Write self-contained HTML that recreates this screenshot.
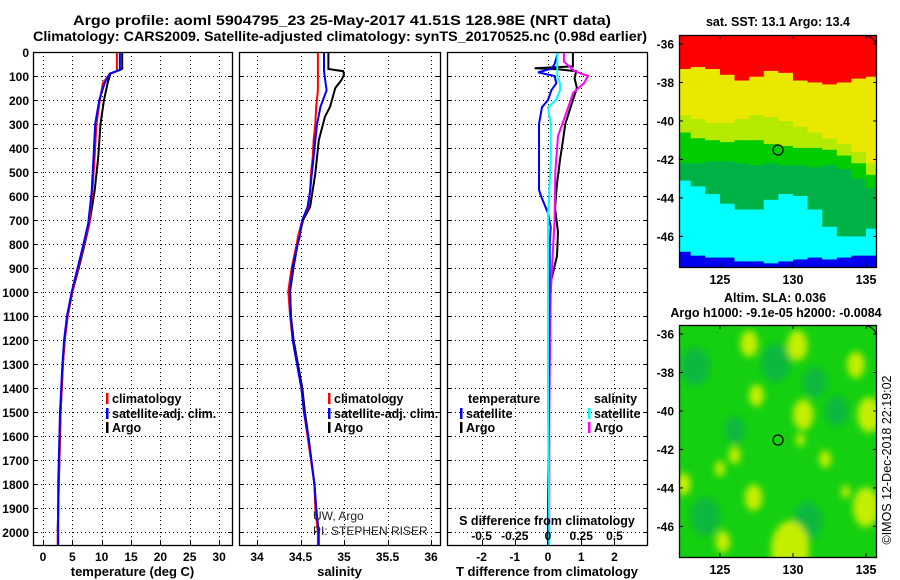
<!DOCTYPE html>
<html><head><meta charset="utf-8"><style>
html,body{margin:0;padding:0;background:#fff;}
svg{display:block;font-family:"Liberation Sans",sans-serif;font-weight:bold;}
</style></head><body>
<svg id="fig" width="900" height="580" viewBox="0 0 900 580" xmlns="http://www.w3.org/2000/svg">
<text x="342" y="25" text-anchor="middle" font-size="13.5" textLength="538" lengthAdjust="spacingAndGlyphs">Argo profile: aoml 5904795_23 25-May-2017 41.51S 128.98E (NRT data)</text>
<text x="340" y="41" text-anchor="middle" font-size="13.5" textLength="614" lengthAdjust="spacingAndGlyphs">Climatology: CARS2009. Satellite-adjusted climatology: synTS_20170525.nc (0.98d earlier)</text>
<g id="layer"></g>
</svg>
<script>
// ---------- data ----------
var depthTicks = [0,100,200,300,400,500,600,700,800,900,1000,1100,1200,1300,1400,1500,1600,1700,1800,1900,2000];
var tempTicks = [0,5,10,15,20,25,30];
var salTicks = [34,34.5,35,35.5,36];
var salTickLabels = ["34","34.5","35","35.5","36"];
var tdiffTicks = [-2,-1,0,1,2];
var sdiffTicks = [-0.5,-0.25,0,0.25,0.5];
var sdiffTickLabels = ["-0.5","-0.25","0","0.25","0.5"];

var tClimDepth = [0,80,90,130,200,300,440,580,715,800,900,1000,1100,1200,1300,1400,1500,1600,1800,2000,2054];
var tClimVal   = [12.6,12.6,11.4,10.2,9.7,9.1,8.8,8.4,7.9,7.0,6.0,5.0,4.2,3.7,3.4,3.2,3.0,2.9,2.7,2.5,2.5];
var tSatDepth  = [0,75,90,130,200,300,440,580,715,800,900,1000,1100,1200,1300,1400,1500,1600,1800,2000,2054];
var tSatVal    = [13.1,13.1,11.4,10.5,9.6,8.9,8.6,8.3,7.7,6.9,5.9,4.9,4.1,3.6,3.3,3.1,2.9,2.8,2.6,2.6,2.6];
var tArgoDepth = [0,70,90,130,200,300,440,580,715,800,900,1000,1100,1200,1300,1400,1500,1600,1800,2000];
var tArgoVal   = [13.5,13.5,11.5,11.0,10.4,9.8,9.4,8.8,7.9,7.1,6.1,5.0,4.2,3.7,3.4,3.2,3.0,2.9,2.7,2.5];

var sDepth     = [0,80,160,228,300,368,440,507,580,646,700,771,796,896,996,1100,1200,1300,1400,1500,1600,1800,1900,2000,2054];
var sClimVal   = [34.70,34.70,34.70,34.68,34.67,34.65,34.64,34.62,34.61,34.59,34.52,34.47,34.46,34.40,34.36,34.38,34.41,34.46,34.51,34.54,34.58,34.66,34.67,34.70,34.70];
var sSatVal    = [34.77,34.77,34.80,34.73,34.69,34.67,34.65,34.63,34.61,34.58,34.52,34.49,34.47,34.41,34.38,34.39,34.41,34.46,34.51,34.54,34.59,34.66,34.68,34.71,34.71];
var sArgoDepth = [0,71,80,95,117,150,228,270,368,507,646,700,771,896,996,1100,1200,1300,1400,1500,1600,1800,2000];
var sArgoVal   = [34.82,34.82,34.99,35.00,34.97,34.90,34.84,34.78,34.71,34.67,34.61,34.53,34.48,34.42,34.38,34.39,34.42,34.47,34.52,34.55,34.59,34.66,34.70];

var dDepth     = [0,50,70,85,100,130,160,200,230,300,370,450,575,604,671,729,800,900,1000,1200,1500,2000,2054];
var tdSatVal   = [0.3,0.2,0.1,-0.3,0.2,0.25,0.1,0.0,-0.18,-0.27,-0.27,-0.27,-0.27,-0.2,0.0,0.08,0.05,0.05,0.04,0.03,0.02,0.0,0.0];
var tdArgoDepth= [0,60,68,72,80,110,150,200,300,370,450,550,650,750,850,950,1050,1500,2000];
var tdArgoVal  = [0.75,0.75,-0.4,0.3,0.85,0.8,0.87,0.75,0.52,0.45,0.36,0.27,0.21,0.3,0.27,0.1,0.06,0.03,0.0];
var sdSatVal   = [0.07,0.07,0.07,0.07,0.07,0.09,0.09,0.06,0.0,0.02,0.02,0.02,0.01,0.01,0.0,0.0,0.0,0.0,0.0,0.0,0.0,0.01,0.01];
var sdArgoDepth= [0,40,80,100,130,170,250,350,500,700,900,1000,1500,2000];
var sdArgoVal  = [0.12,0.12,0.2,0.3,0.27,0.19,0.14,0.075,0.055,0.05,0.03,0.02,0.01,0.01];

// SST map: per-longitude-column colour band edges (latitude)
var sstLon     = [122.5,123.5,124.5,125.5,126.5,127.5,128.5,129.5,130.5,131.5,132.5,133.5,134.5,135.5];
var redEdge    = [-37.3,-37.2,-37.3,-37.6,-37.9,-37.7,-37.4,-37.5,-37.9,-38.0,-38.1,-38.0,-37.8,-37.7];
var yellowEdge = [-39.7,-39.9,-40.1,-40.1,-39.9,-39.7,-39.8,-40.0,-40.3,-40.6,-40.9,-41.2,-41.6,-42.2];
var lightEdge  = [-40.6,-40.9,-41.0,-41.1,-41.0,-41.0,-41.2,-41.3,-41.4,-41.4,-41.5,-41.8,-42.2,-42.8];
var greenEdge  = [-42.2,-42.2,-42.1,-42.1,-42.2,-42.3,-42.2,-42.3,-42.3,-42.4,-42.3,-42.5,-43.0,-43.5];
var darkEdge   = [-43.1,-43.4,-43.8,-44.3,-44.6,-44.6,-44.1,-43.8,-43.9,-44.6,-45.5,-46.0,-46.0,-45.6];
var cyanEdge   = [-46.8,-47.0,-47.1,-47.1,-47.3,-47.3,-47.4,-47.3,-47.2,-47.1,-47.2,-47.1,-47.0,-47.0];

// SLA map blobs
var lightLon = [127.0,130.3,134.3,130.7,135.2,127.5,127.3,125.2,129.8,135.0,122.5,126.0,132.2,125.0,133.6,130.5];
var lightLat = [-36.5,-36.6,-37.6,-40.2,-40.2,-39.2,-44.5,-46.8,-47.2,-45.0,-43.8,-42.3,-42.5,-43.0,-44.2,-41.5];
var lightRad = [0.6,0.7,0.6,0.7,0.8,0.5,0.6,0.5,1.3,0.9,0.5,0.4,0.4,0.35,0.3,0.3];
var darkLon = [123.3,128.8,131.5,124.0,131.0,133.0,126.0];
var darkLat = [-37.7,-37.5,-38.5,-45.5,-45.7,-40.0,-41.0];
var darkRad = [1.0,1.0,0.8,1.0,1.0,0.8,0.7];

var argoLon = 128.98, argoLat = -41.51;

// ---------- helpers ----------
var NS = "http://www.w3.org/2000/svg";
var layer = document.getElementById('layer');
function mk(tag, attrs, parent){ var e=document.createElementNS(NS,tag); for(var k in attrs) e.setAttribute(k,attrs[k]); (parent||layer).appendChild(e); return e; }

var Y0=52, Y1=545, D1=2054;
function yDepth(d){ return Y0 + (d/D1)*(Y1-Y0); }
function makeX(px0, px1, v0, v1){ return function(v){ return px0 + (v-v0)/(v1-v0)*(px1-px0); }; }

var panels = [
 {x0:33,x1:232, name:'temperature-panel', x:makeX(33,232,-1.70,32.2), ticks:tempTicks, labels:tempTicks.map(String), title:'temperature (deg C)'},
 {x0:239,x1:440, name:'salinity-panel', x:makeX(239,440,33.793,36.103), ticks:salTicks, labels:salTickLabels, title:'salinity'},
 {x0:447,x1:647, name:'difference-panel', x:makeX(447,647,-3.04,2.98), ticks:tdiffTicks, labels:tdiffTicks.map(String), title:'T difference from climatology'}
];

panels.forEach(function(p,i){
  var g = mk('g',{});
  
  
  p.ticks.forEach(function(t){
    var xx=Math.round(p.x(t))+0.5;
    var l=mk('line',{x1:xx,x2:xx,y1:Y0,y2:Y1,stroke:'#000','stroke-width':1,'stroke-dasharray':'1,3'},g);
    
    
    mk('line',{x1:xx,x2:xx,y1:Y1-4,y2:Y1,stroke:'#000'},g);
    var tl=mk('text',{x:p.x(t),y:561,'text-anchor':'middle','font-size':12},g);
    tl.textContent=p.labels[p.ticks.indexOf(t)];
    
    
  });
  depthTicks.forEach(function(d){
    var yy=Math.round(yDepth(d))+0.5;
    if(d>0){
      var l=mk('line',{x1:p.x0,x2:p.x1,y1:yy,y2:yy,stroke:'#000','stroke-width':1,'stroke-dasharray':'1,3'},g);
      
      
    }
    mk('line',{x1:p.x0,x2:p.x0+4,y1:yy,y2:yy,stroke:'#000'},g);
    mk('line',{x1:p.x1-4,x2:p.x1,y1:yy,y2:yy,stroke:'#000'},g);
    if(i===0){
      var tl=mk('text',{x:29,y:yy+4.5,'text-anchor':'end','font-size':12},g);
      tl.textContent=String(d);
      
      
    }
  });
  var fr=mk('rect',{x:p.x0+0.5,y:Y0+0.5,width:p.x1-p.x0,height:Y1-Y0,fill:'none',stroke:'#000','stroke-width':1.3},g);
  
  
  var tt=mk('text',{x:(p.x0+p.x1)/2,y:576,'text-anchor':'middle','font-size':13},g);
  tt.textContent=p.title;
  
  
});

function stepLine(xf, depths, vals, color, name, clipId){
  var pts=[];
  for(var k=0;k<depths.length;k++){ pts.push(xf(vals[k]).toFixed(1)+','+yDepth(depths[k]).toFixed(1)); }
  var pl=mk('polyline',{points:pts.join(' '),fill:'none',stroke:color,'stroke-width':2,'stroke-linejoin':'miter','clip-path':'url(#'+clipId+')'});
  
  
}
var defs=mk('defs',{});
panels.forEach(function(p,i){ var c=mk('clipPath',{id:'clip'+i},defs); mk('rect',{x:p.x0+1,y:Y0+1,width:p.x1-p.x0-1,height:Y1-Y0-1},c); });

var P1=panels[0], P2=panels[1], P3=panels[2];
stepLine(P1.x, tArgoDepth, tArgoVal, '#000', 'temperature-argo-line','clip0');
stepLine(P1.x, tClimDepth, tClimVal, '#ff0000', 'temperature-climatology-line','clip0');
stepLine(P1.x, tSatDepth, tSatVal, '#0000ff', 'temperature-satellite-line','clip0');
stepLine(P2.x, sArgoDepth, sArgoVal, '#000', 'salinity-argo-line','clip1');
stepLine(P2.x, sDepth, sClimVal, '#ff0000', 'salinity-climatology-line','clip1');
stepLine(P2.x, sDepth, sSatVal, '#0000ff', 'salinity-satellite-line','clip1');
var sdX = makeX(447,647,-0.76,0.745);
stepLine(P3.x, tdArgoDepth, tdArgoVal, '#000', 'tdiff-argo-line','clip2');
stepLine(sdX, sdArgoDepth, sdArgoVal, '#ff00ff', 'sdiff-argo-line','clip2');
stepLine(P3.x, dDepth, tdSatVal, '#0000ff', 'tdiff-satellite-line','clip2');
stepLine(sdX, dDepth, sdSatVal, '#00ffff', 'sdiff-satellite-line','clip2');

var sl=mk('text',{x:547,y:525,'text-anchor':'middle','font-size':12.5});
sl.textContent='S difference from climatology';


sdiffTicks.forEach(function(t,k){
  var e=mk('text',{x:sdX(t),y:540,'text-anchor':'middle','font-size':12});
  e.textContent=sdiffTickLabels[k];
  
  
});

function legend(x, y, color, label){
  var g=mk('g',{});
  
  
  mk('rect',{x:x,y:y-10,width:2.5,height:11,fill:color},g);
  var t=mk('text',{x:x+6,y:y,'font-size':12.5},g); t.textContent=label;
}
legend(106,403,'#ff0000','climatology'); legend(106,418,'#0000ff','satellite-adj. clim.'); legend(106,432,'#000','Argo');
legend(328,403,'#ff0000','climatology'); legend(328,418,'#0000ff','satellite-adj. clim.'); legend(328,432,'#000','Argo');
var lt=mk('text',{x:468,y:403,'font-size':12.5}); lt.textContent='temperature';
 
legend(460,418,'#0000ff','satellite'); legend(460,432,'#000','Argo');
var ls=mk('text',{x:594,y:403,'font-size':12.5}); ls.textContent='salinity';
 
legend(588,418,'#00ffff','satellite'); legend(588,432,'#ff00ff','Argo');

var cr1=mk('text',{x:313,y:520,'font-size':12,'font-weight':'normal',fill:'#222'}); cr1.textContent='UW, Argo';
 
var cr2=mk('text',{x:313,y:535,'font-size':12,'font-weight':'normal',fill:'#222'}); cr2.textContent='PI: STEPHEN RISER';
 

// ---------- maps ----------
var MX0=679, MX1=877, LON0=122.2, LON1=135.75;
function mLon(l){ return MX0 + (l-LON0)/(LON1-LON0)*(MX1-MX0); }
function makeMap(top, bottom, name, clipId){
  var latTop = -36 + 9/19.24, latBot = latTop - (bottom-top)/19.24;
  function mLat(la){ return top + (latTop-la)/(latTop-latBot)*(bottom-top); }
  var g=mk('g',{});
  
  
  var c=mk('clipPath',{id:clipId},defs); mk('rect',{x:MX0,y:top,width:MX1-MX0,height:bottom-top},c);
  var inner=mk('g',{'clip-path':'url(#'+clipId+')'},g);
  return {g:g, inner:inner, lat:mLat, top:top, bottom:bottom};
}
function mapAxes(m){
  [-36,-38,-40,-42,-44,-46].forEach(function(la){
    var yy=m.lat(la);
    mk('line',{x1:MX0,x2:MX0+4,y1:yy,y2:yy,stroke:'#000'},m.g);
    mk('line',{x1:MX1-4,x2:MX1,y1:yy,y2:yy,stroke:'#000'},m.g);
    var t=mk('text',{x:674,y:yy+4.5,'text-anchor':'end','font-size':12},m.g); t.textContent=String(la);
     
  });
  [125,130,135].forEach(function(lo){
    var xx=mLon(lo);
    mk('line',{x1:xx,x2:xx,y1:m.top,y2:m.top+4,stroke:'#000'},m.g);
    mk('line',{x1:xx,x2:xx,y1:m.bottom-4,y2:m.bottom,stroke:'#000'},m.g);
    var t=mk('text',{x:xx,y:m.bottom+17,'text-anchor':'middle','font-size':12.5},m.g); t.textContent=String(lo);
     
  });
  mk('rect',{x:MX0+0.5,y:m.top+0.5,width:MX1-MX0-1,height:m.bottom-m.top,fill:'none',stroke:'#000','stroke-width':1.3},m.g);
  var mk1=mk('circle',{cx:mLon(argoLon),cy:m.lat(argoLat),r:5,fill:'none',stroke:'#000','stroke-width':1.2},m.g);
   
  mk('path',{d:'M'+(MX1-10)+','+(m.top+1)+' Q'+(MX1-2)+','+(m.top+3)+' '+(MX1-1)+','+(m.top+10),fill:'none',stroke:'#000','stroke-width':1},m.g);
}

var m1=makeMap(35,267,'sst-map','mclip1');
var bands=[[null,'#ff0000'],[redEdge,'#ebe800'],[yellowEdge,'#b4ea00'],[lightEdge,'#00cc00'],[greenEdge,'#00b246'],[darkEdge,'#00ffff'],[cyanEdge,'#0000ee']];
sstLon.forEach(function(lo,k){
  var xa=mLon(lo-0.5), xb=mLon(lo+0.5);
  for(var b=0;b<bands.length;b++){
    var ya = bands[b][0] ? m1.lat(bands[b][0][k]) : m1.top;
    var yb = (b+1<bands.length) ? m1.lat(bands[b+1][0][k]) : m1.bottom;
    var r=mk('rect',{x:xa,y:ya,width:xb-xa+0.6,height:Math.max(0,yb-ya+0.6),fill:bands[b][1]},m1.inner);
    
    
  }
});
mapAxes(m1);
var t1=mk('text',{x:778,y:26,'text-anchor':'middle','font-size':12.5}); t1.textContent='sat. SST: 13.1 Argo: 13.4';
 

var m2=makeMap(325,557,'sla-map','mclip2');
var f=mk('filter',{id:'blur',x:'-50%',y:'-50%',width:'200%',height:'200%'},defs);
mk('feGaussianBlur',{stdDeviation:3.5},f);
mk('rect',{x:MX0,y:325,width:MX1-MX0,height:232,fill:'#14d010'},m2.inner);
var bl=mk('g',{filter:'url(#blur)'},m2.inner);
darkLon.forEach(function(lo,k){
  var c=mk('ellipse',{cx:mLon(lo),cy:m2.lat(darkLat[k]),rx:darkRad[k]*14.6,ry:darkRad[k]*19.2,fill:'#0ab840'},bl);
   
});
lightLon.forEach(function(lo,k){
  var c=mk('ellipse',{cx:mLon(lo),cy:m2.lat(lightLat[k]),rx:lightRad[k]*14.6,ry:lightRad[k]*22,fill:'#c4ee00'},bl);
   
});
mapAxes(m2);
var t2=mk('text',{x:775,y:302,'text-anchor':'middle','font-size':12.5}); t2.textContent='Altim. SLA: 0.036';
 
var t3=mk('text',{x:776,y:317,'text-anchor':'middle','font-size':12.5}); t3.textContent='Argo h1000: -9.1e-05 h2000: -0.0084';
 
var st=mk('text',{x:0,y:0,'text-anchor':'middle','font-size':12.5,'font-weight':'normal',transform:'translate(891,460) rotate(-90)'}); st.textContent='©IMOS 12-Dec-2018 22:19:02';
 
</script>
</body></html>
